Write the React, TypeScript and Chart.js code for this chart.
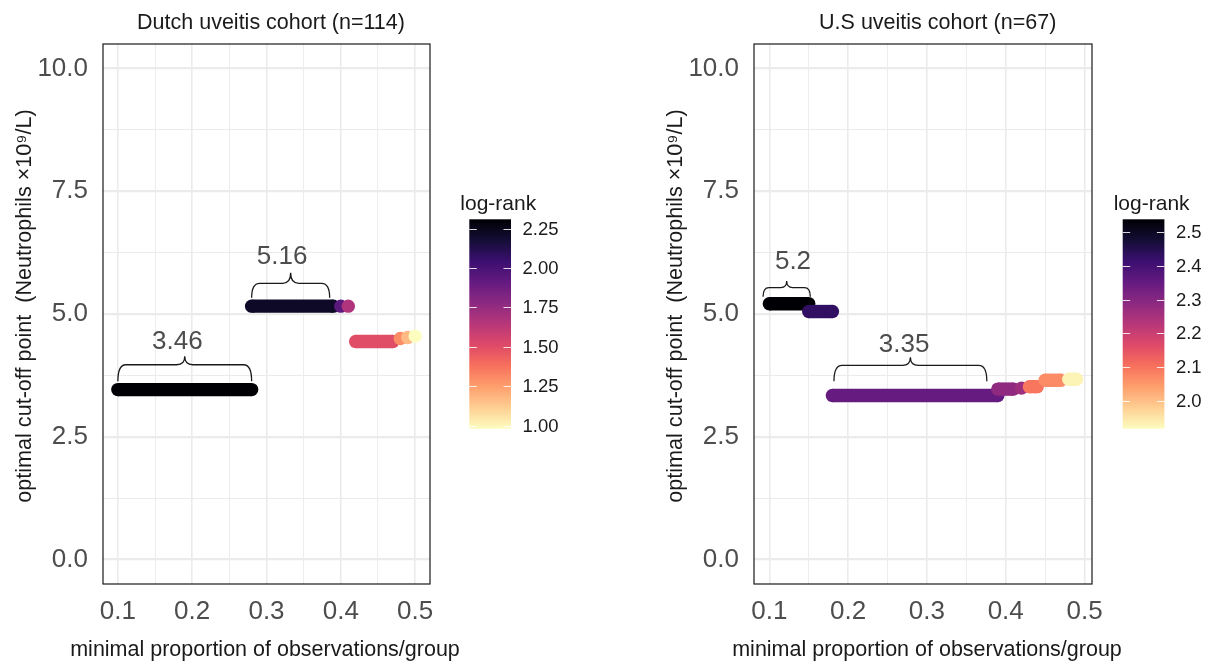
import React, { useEffect, useRef } from 'react';
import { Chart, registerables } from 'chart.js';

Chart.register(...registerables);

const FONT = "'Liberation Sans', Arial, Helvetica, sans-serif";

// ---------- shared axis values ----------
const xMajor = [0.1, 0.2, 0.3, 0.4, 0.5];
const xMinor = [0.15, 0.25, 0.35, 0.45];
const yMajor = [0, 2.5, 5, 7.5, 10];
const yMinor = [1.25, 3.75, 6.25, 8.75];
const yRange = [-0.5, 10.5];
const xAxisTitle = 'minimal proportion of observations/group';
const yAxisTitle = 'optimal cut-off point  (Neutrophils ×10⁹/L)';
const legendTitle = 'log-rank';

// ---------- Dutch cohort ----------
const dutchTitle = 'Dutch uveitis cohort (n=114)';
const dutchXStart = [0.10, 0.28, 0.40, 0.41, 0.42, 0.48, 0.49, 0.50];
const dutchXEnd = [0.28, 0.39, 0.40, 0.41, 0.47, 0.48, 0.49, 0.50];
const dutchCutoff = [3.46, 5.16, 5.16, 5.16, 4.44, 4.50, 4.52, 4.55];
const dutchLogrank = [2.31, 2.22, 1.94, 1.67, 1.50, 1.30, 1.17, 0.98];
const dutchXRange = [0.08, 0.52];
const dutchLegendTicks = [1.0, 1.25, 1.5, 1.75, 2.0, 2.25];
const dutchLegendRange = [0.98, 2.31];
const dutchBraceFrom = [0.10, 0.28];
const dutchBraceTo = [0.28, 0.385];
const dutchBraceBase = [3.63, 5.33];
const dutchBraceTip = [4.14, 5.84];
const dutchBraceLabel = ['3.46', '5.16'];
const dutchLabelX = [0.18, 0.321];
const dutchLabelY = [4.44, 6.17];

// ---------- US cohort ----------
const usTitle = 'U.S uveitis cohort (n=67)';
const usXStart = [0.10, 0.15, 0.18, 0.39, 0.42, 0.43, 0.45, 0.48];
const usXEnd = [0.15, 0.18, 0.39, 0.41, 0.42, 0.44, 0.47, 0.49];
const usCutoff = [5.21, 5.05, 3.34, 3.47, 3.49, 3.52, 3.65, 3.67];
const usLogrank = [2.539, 2.43, 2.35, 2.284, 2.265, 2.097, 2.066, 1.93];
const usXRange = [0.0805, 0.5095];
const usLegendTicks = [2.0, 2.1, 2.2, 2.3, 2.4, 2.5];
const usLegendRange = [1.917, 2.539];
const usBraceFrom = [0.092, 0.182];
const usBraceTo = [0.152, 0.376];
const usBraceBase = [5.35, 3.63];
const usBraceTip = [5.67, 4.12];
const usBraceLabel = ['5.2', '3.35'];
const usLabelX = [0.13, 0.271];
const usLabelY = [6.06, 4.38];

// magma colour map
const MAGMA = ['#000004', '#140e36', '#3b0f70', '#641a80', '#8c2981', '#b73779', '#de4968', '#f7705c', '#fe9f6d', '#fecf92', '#fcfdbf'];

function hexToRgb(h: string) {
  const n = parseInt(h.slice(1), 16);
  return [(n >> 16) & 255, (n >> 8) & 255, n & 255];
}
function magma(t: number): string {
  t = Math.max(0, Math.min(1, t));
  const n = MAGMA.length - 1;
  const f = t * n;
  const i = Math.min(n - 1, Math.floor(f));
  const r = f - i;
  const a = hexToRgb(MAGMA[i]);
  const b = hexToRgb(MAGMA[i + 1]);
  const c = a.map((v, k) => Math.round(v + (b[k] - v) * r));
  return `rgb(${c[0]},${c[1]},${c[2]})`;
}

type Spec = {
  title: string;
  xStart: number[]; xEnd: number[]; cutoff: number[]; logrank: number[];
  xRange: number[]; legendTicks: number[]; legendRange: number[]; legendDecimals: number;
  braceFrom: number[]; braceTo: number[]; braceBase: number[]; braceTip: number[];
  braceLabel: string[]; labelX: number[]; labelY: number[];
  // layout (style only)
  canvasLeft: number; canvasWidth: number; padRight: number; titleX: number; legendX: number; xTitleX: number;
};

const near = (arr: number[], v: number) => arr.some((a) => Math.abs(a - v) < 1e-9);

function drawBrace(ctx: CanvasRenderingContext2D, x0: number, x1: number, yb: number, yt: number) {
  const h = yb - yt;
  const w = x1 - x0;
  const r = Math.min(8, w / 8);
  const ym = yb - (w < 80 ? 0.58 : 0.66) * h;
  const xm = (x0 + x1) / 2;
  ctx.beginPath();
  ctx.moveTo(x0, yb);
  ctx.quadraticCurveTo(x0, ym, x0 + r, ym);
  ctx.lineTo(xm - r, ym);
  ctx.quadraticCurveTo(xm, ym, xm, yt);
  ctx.quadraticCurveTo(xm, ym, xm + r, ym);
  ctx.lineTo(x1 - r, ym);
  ctx.quadraticCurveTo(x1, ym, x1, yb);
  ctx.stroke();
}

function Panel({ spec }: { spec: Spec }) {
  const ref = useRef<HTMLCanvasElement>(null);
  useEffect(() => {
    const canvas = ref.current!;
    const [lrMin, lrMax] = spec.legendRange;
    const colorOf = (v: number) => magma(1 - (v - lrMin) / (lrMax - lrMin));
    const n = spec.xStart.length;
    const datasets = spec.xStart.map((x0, i) => {
      const c = colorOf(spec.logrank[i]);
      const y = spec.cutoff[i];
      const pts = x0 === spec.xEnd[i] ? [{ x: x0, y }] : [{ x: x0, y }, { x: spec.xEnd[i], y }];
      return {
        data: pts,
        showLine: true,
        borderColor: c,
        backgroundColor: c,
        pointBackgroundColor: c,
        pointBorderColor: c,
        pointBorderWidth: 0,
        borderWidth: 13.4,
        pointRadius: 6.7,
        pointHoverRadius: 6.7,
        order: n - i,
      };
    });

    const decor = {
      id: 'decor',
      afterDatasetsDraw(chart: any) {
        const { ctx, chartArea: a, scales } = chart;
        const xs = scales.x, ys = scales.y;
        ctx.save();
        ctx.strokeStyle = '#1a1a1a';
        ctx.lineWidth = 1.3;
        spec.braceFrom.forEach((bf, i) => {
          drawBrace(ctx, xs.getPixelForValue(bf), xs.getPixelForValue(spec.braceTo[i]),
            ys.getPixelForValue(spec.braceBase[i]), ys.getPixelForValue(spec.braceTip[i]));
          ctx.font = `26px ${FONT}`;
          ctx.fillStyle = '#4d4d4d';
          ctx.textAlign = 'center';
          ctx.textBaseline = 'middle';
          ctx.fillText(spec.braceLabel[i], xs.getPixelForValue(spec.labelX[i]), ys.getPixelForValue(spec.labelY[i]));
        });
        ctx.strokeStyle = '#1a1a1a';
        ctx.lineWidth = 1.2;
        ctx.strokeRect(a.left, a.top, a.right - a.left, a.bottom - a.top);
        ctx.restore();
      },
      afterDraw(chart: any) {
        const { ctx } = chart;
        ctx.save();
        // panel title
        ctx.font = `21.5px ${FONT}`;
        ctx.fillStyle = '#1a1a1a';
        ctx.textAlign = 'center';
        ctx.textBaseline = 'alphabetic';
        ctx.fillText(spec.title, spec.titleX, 28.5);
        // axis titles
        ctx.font = `21.5px ${FONT}`;
        ctx.textBaseline = 'middle';
        ctx.fillText(xAxisTitle, spec.xTitleX, 650);
        ctx.save();
        ctx.translate(25, 306);
        ctx.rotate(-Math.PI / 2);
        ctx.font = `21.6px ${FONT}`;
        ctx.fillText(yAxisTitle, 0, 0);
        ctx.restore();
        // colour bar
        const bx = spec.legendX, by = 219.3, bw = 41.7, bh = 209.4;
        const g = ctx.createLinearGradient(0, by, 0, by + bh);
        for (let k = 0; k <= 60; k++) g.addColorStop(k / 60, magma(k / 60));
        ctx.fillStyle = g;
        ctx.fillRect(bx, by, bw, bh);
        ctx.strokeStyle = 'rgba(255,255,255,0.85)';
        ctx.lineWidth = 1;
        ctx.font = `18.5px ${FONT}`;
        ctx.textAlign = 'left';
        ctx.textBaseline = 'middle';
        spec.legendTicks.forEach((v) => {
          const y = Math.round(by + ((lrMax - v) / (lrMax - lrMin)) * bh) + 0.5;
          ctx.beginPath();
          ctx.moveTo(bx, y); ctx.lineTo(bx + 7.5, y);
          ctx.moveTo(bx + bw - 7.5, y); ctx.lineTo(bx + bw, y);
          ctx.stroke();
          ctx.fillStyle = '#1a1a1a';
          ctx.fillText(v.toFixed(spec.legendDecimals), bx + bw + 11.5, y);
        });
        ctx.font = `21px ${FONT}`;
        ctx.textBaseline = 'alphabetic';
        ctx.fillStyle = '#1a1a1a';
        ctx.fillText(legendTitle, bx - 9, 209.5);
        ctx.restore();
      },
    };

    const gridColor = '#ebebeb';
    const chart = new Chart(canvas, {
      type: 'scatter',
      data: { datasets: datasets as any },
      options: {
        responsive: false,
        animation: false,
        events: [],
        layout: { padding: { top: 44, right: spec.padRight, left: 0, bottom: 0 } },
        plugins: { legend: { display: false }, tooltip: { enabled: false }, title: { display: false } },
        scales: {
          x: {
            type: 'linear',
            min: spec.xRange[0],
            max: spec.xRange[1],
            afterBuildTicks: (s: any) => {
              s.ticks = [...xMajor, ...xMinor].sort((a, b) => a - b).map((v) => ({ value: v }));
            },
            afterFit: (s: any) => { s.height = 80; },
            grid: {
              color: gridColor,
              lineWidth: (c: any) => (near(xMajor, c.tick?.value) ? 1.6 : 0.9),
              drawTicks: false,
            },
            border: { display: false },
            ticks: {
              autoSkip: false,
              maxRotation: 0,
              padding: 12,
              color: '#4d4d4d',
              font: { family: FONT, size: 26 },
              callback: (v: any) => (near(xMajor, v) ? Number(v).toFixed(1) : ''),
            },
          },
          y: {
            type: 'linear',
            min: yRange[0],
            max: yRange[1],
            afterBuildTicks: (s: any) => {
              s.ticks = [...yMajor, ...yMinor].sort((a, b) => a - b).map((v) => ({ value: v }));
            },
            afterFit: (s: any) => { s.width = 103; },
            grid: {
              color: gridColor,
              lineWidth: (c: any) => (near(yMajor, c.tick?.value) ? 2.2 : 1),
              drawTicks: false,
            },
            border: { display: false },
            ticks: {
              autoSkip: false,
              padding: 15,
              color: '#4d4d4d',
              font: { family: FONT, size: 26 },
              callback: (v: any) => (near(yMajor, v) ? Number(v).toFixed(1) : ''),
            },
          },
        },
      },
      plugins: [decor],
    } as any);
    return () => chart.destroy();
  }, [spec]);

  return (
    <canvas
      ref={ref}
      width={spec.canvasWidth}
      height={664}
      style={{ position: 'absolute', left: spec.canvasLeft, top: 0, width: spec.canvasWidth, height: 664, display: 'block' }}
    />
  );
}

const dutchSpec: Spec = {
  title: dutchTitle,
  xStart: dutchXStart, xEnd: dutchXEnd, cutoff: dutchCutoff, logrank: dutchLogrank,
  xRange: dutchXRange, legendTicks: dutchLegendTicks, legendRange: dutchLegendRange, legendDecimals: 2,
  braceFrom: dutchBraceFrom, braceTo: dutchBraceTo, braceBase: dutchBraceBase, braceTip: dutchBraceTip,
  braceLabel: dutchBraceLabel, labelX: dutchLabelX, labelY: dutchLabelY,
  canvasLeft: 0, canvasWidth: 651, padRight: 221, titleX: 271, legendX: 469.3, xTitleX: 265,
};

const usSpec: Spec = {
  title: usTitle,
  xStart: usXStart, xEnd: usXEnd, cutoff: usCutoff, logrank: usLogrank,
  xRange: usXRange, legendTicks: usLegendTicks, legendRange: usLegendRange, legendDecimals: 1,
  braceFrom: usBraceFrom, braceTo: usBraceTo, braceBase: usBraceBase, braceTip: usBraceTip,
  braceLabel: usBraceLabel, labelX: usLabelX, labelY: usLabelY,
  canvasLeft: 651, canvasWidth: 561, padRight: 120, titleX: 286.7, legendX: 471.7, xTitleX: 276,
};

export default function App() {
  useEffect(() => {
    document.body.style.margin = '0';
  }, []);
  return (
    <div style={{ position: 'fixed', left: 0, top: 0, width: 1212, height: 664, background: '#ffffff', overflow: 'hidden' }}>
      <Panel spec={dutchSpec} />
      <Panel spec={usSpec} />
    </div>
  );
}
